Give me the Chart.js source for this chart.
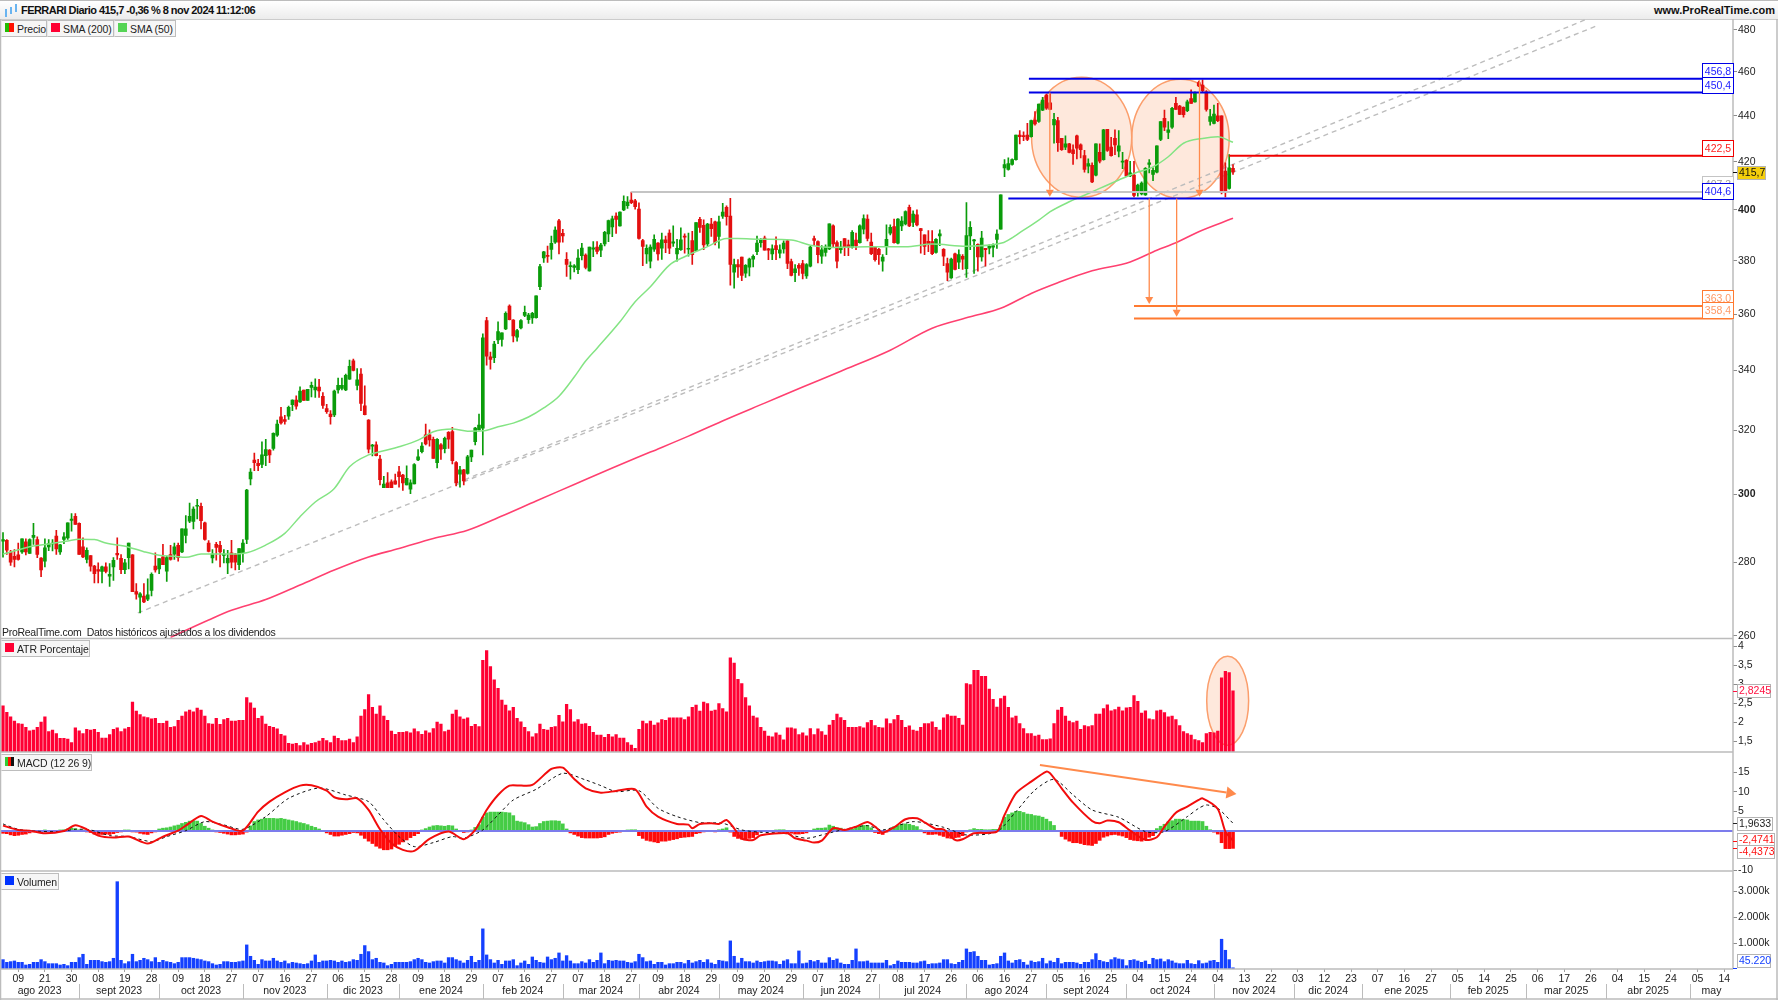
<!DOCTYPE html>
<html lang="es">
<head>
<meta charset="utf-8">
<title>FERRARI Diario</title>
<script src="https://cdn.jsdelivr.net/npm/chart.js@4/dist/chart.umd.min.js"></script>
<style>
  html, body { margin: 0; padding: 0; background: #fff; overflow: hidden; }
  body { position: relative; width: 1778px; height: 1000px; font-family: "Liberation Sans", Arial, sans-serif; color: #111; }
  canvas { position: absolute; left: 0; top: 0; }
  .head { position: absolute; left: 0; top: 1px; width: 1778px; height: 18px; background: linear-gradient(#ffffff, #ececec); font-weight: bold; font-size: 11px; line-height: 18px; }
  .head .title { position: absolute; left: 21px; letter-spacing: -.55px; }
  .head .site { position: absolute; right: 3px; }
  .head i { position: absolute; width: 2px; background: #69b4f0; }
  .tag { position: absolute; height: 17px; line-height: 16px; font-size: 10.5px; letter-spacing: -.12px; background: #f6f6f6; border: 1px solid #bdbdbd; border-left-color: #e8e8e8; box-sizing: border-box; padding-left: 15px; white-space: nowrap; color: #222; }
  .tag b { position: absolute; left: 3px; top: 2px; width: 9px; height: 9px; }
  .note { position: absolute; left: 2px; top: 626px; font-size: 10.5px; letter-spacing: -.28px; color: #222; white-space: nowrap; }
</style>
</head>
<body>
<canvas id="js-chart-ferrari" width="1778" height="1000"></canvas>
<div class="head">
  <i style="left:5px;top:8px;height:8px"></i><i style="left:10px;top:6px;height:7px"></i><i style="left:15px;top:3px;height:8px"></i>
  <span class="title">FERRARI Diario 415,7 -0,36 % 8 nov 2024 11:12:06</span>
  <span class="site">www.ProRealTime.com</span>
</div>
<div class="tag" style="left:1px;top:20px;width:46px"><b style="background:linear-gradient(90deg,#22bb00 50%,#ff1100 50%)"></b>Precio</div>
<div class="tag" style="left:47px;top:20px;width:67px"><b style="background:#ff0033"></b>SMA (200)</div>
<div class="tag" style="left:114px;top:20px;width:62px"><b style="background:#55d455"></b>SMA (50)</div>
<div class="note">ProRealTime.com&nbsp; Datos históricos ajustados a los dividendos</div>
<div class="tag" style="left:1px;top:640px;width:89px"><b style="background:#ff0033"></b>ATR Porcentaje</div>
<div class="tag" style="left:1px;top:754px;width:91px"><b style="background:linear-gradient(90deg,#33cc33 33%,#ff1100 33%,#ff1100 66%,#111 66%)"></b>MACD (12 26 9)</div>
<div class="tag" style="left:1px;top:873px;width:58px"><b style="background:#0033ff"></b>Volumen</div>

<script>
// Candles, one value per session
const opens = [
  286.1,286.4,283.0,281.8,282.2,283.0,285.9,282.6,287.2,286.6,
  281.3,280.4,284.5,285.3,287.6,283.0,286.6,287.1,292.2,293.4,
  291.3,284.5,280.9,282.0,279.0,278.0,277.5,278.8,276.2,278.8,
  282.6,281.2,278.0,281.4,282.2,271.9,270.4,270.7,269.8,272.2,
  279.0,278.2,281.6,277.6,282.3,282.4,284.9,283.0,287.8,292.0,
  291.9,296.4,296.4,291.5,285.6,281.3,285.2,284.9,282.0,279.9,
  282.8,282.3,279.4,282.8,286.6,304.7,310.6,309.6,309.2,312.0,
  313.7,314.3,318.5,324.5,323.6,324.7,328.5,330.0,329.4,333.4,
  329.9,334.3,333.4,334.4,331.3,327.2,325.4,325.1,333.4,333.9,
  333.4,337.1,343.4,334.9,338.8,328.1,323.4,315.0,315.4,310.9,
  302.0,303.5,303.8,304.1,306.9,305.9,302.9,301.6,303.2,310.6,
  313.2,318.6,318.6,317.2,309.8,315.4,314.2,319.4,319.7,309.8,
  306.2,307.5,306.4,311.6,316.4,320.3,320.8,357.6,344.8,344.5,
  350.7,350.9,354.6,362.9,357.8,351.7,355.0,359.5,358.0,358.6,
  358.7,370.1,381.0,382.0,384.3,387.2,395.6,390.6,380.5,377.7,
  377.4,376.5,381.9,382.1,376.1,384.4,385.2,384.0,386.5,390.4,
  393.2,397.5,393.6,400.0,401.7,404.0,403.7,400.3,387.8,382.6,
  379.8,384.4,386.8,384.8,388.1,390.7,386.8,382.6,384.2,389.6,
  384.4,387.8,383.8,396.2,393.8,386.5,394.3,395.2,389.4,397.5,
  401.0,397.5,375.6,378.5,381.4,375.2,377.5,380.6,383.5,387.0,
  388.8,384.6,382.6,385.8,382.9,384.5,387.7,379.6,375.4,378.2,
  378.9,374.2,377.9,388.6,387.4,381.7,383.2,384.5,393.6,387.0,
  384.2,388.6,386.1,385.2,388.0,387.0,392.3,396.3,387.2,385.2,
  384.4,379.8,385.8,390.7,393.3,386.8,393.6,394.4,401.0,395.0,
  398.0,392.5,390.0,387.5,387.4,383.2,389.6,384.4,378.9,373.4,
  382.6,379.4,381.7,376.9,389.6,387.7,386.3,381.4,384.8,384.8,
  385.2,388.2,392.3,417.4,416.7,418.8,420.9,431.5,431.1,431.5,
  430.8,438.1,437.4,442.5,449.3,445.8,435.9,437.8,430.0,426.2,
  427.6,425.1,431.1,427.2,422.6,418.1,418.4,414.3,424.0,420.9,
  434.0,426.2,430.0,424.5,419.8,420.6,414.0,414.3,407.5,406.5,
  406.1,418.8,414.6,415.6,429.6,438.8,432.6,434.9,445.5,444.3,
  443.7,442.2,447.7,446.2,455.0,453.8,450.8,437.4,436.6,439.9,
  439.9,416.0,408.8,417.2
];
const highs = [
  288.6,286.6,283.5,283.7,285.6,286.8,286.8,286.8,291.3,287.4,
  281.4,286.8,286.6,286.6,289.3,285.2,288.6,291.5,294.2,294.2,
  291.5,287.1,284.2,282.0,279.2,279.9,279.0,279.9,279.7,281.4,
  287.1,282.3,280.9,285.6,282.3,274.1,271.6,274.1,275.4,277.1,
  282.8,281.1,285.2,281.8,284.9,285.6,285.6,289.7,293.6,297.4,
  296.2,298.5,297.4,291.7,286.3,283.7,285.8,286.1,283.7,283.5,
  286.4,282.6,284.0,286.6,301.5,307.9,312.8,310.8,316.4,317.2,
  313.9,319.3,323.4,327.6,325.0,328.0,330.1,331.4,334.5,333.4,
  333.6,336.1,337.2,337.0,332.5,328.6,326.5,333.4,337.4,337.4,
  338.8,343.6,344.0,340.7,340.7,334.8,323.6,315.6,316.4,312.1,
  305.5,306.7,304.4,306.2,308.6,306.1,308.8,304.4,309.5,313.9,
  316.1,322.1,320.2,317.9,317.4,315.8,317.9,319.7,321.0,310.1,
  308.6,307.7,312.1,313.7,321.0,325.4,352.9,358.8,346.4,350.2,
  357.2,353.2,360.8,363.4,358.0,354.5,358.0,362.9,360.3,360.6,
  366.7,378.6,383.6,385.6,389.6,393.2,396.2,392.2,383.1,379.5,
  378.5,384.3,386.7,382.6,385.2,387.4,387.4,386.7,391.4,395.9,
  397.5,398.8,399.2,405.7,405.4,407.3,404.3,402.9,388.3,386.1,
  386.1,390.0,387.0,390.7,389.6,392.0,393.6,388.3,392.8,390.4,
  390.7,391.4,394.9,397.0,396.0,394.6,396.6,395.5,397.5,402.7,
  401.7,404.7,380.6,380.4,381.4,378.5,381.0,382.2,389.6,388.6,
  389.6,384.8,386.1,389.3,386.1,387.7,388.0,380.6,378.5,378.9,
  380.1,378.9,385.5,389.6,387.7,385.8,386.1,394.4,394.0,387.7,
  387.5,388.6,388.0,391.7,390.7,394.0,398.0,398.0,390.7,385.5,
  384.8,382.3,394.0,394.0,396.3,396.5,397.3,399.6,402.0,399.6,
  400.0,392.6,390.0,391.7,391.7,388.6,392.0,384.7,381.0,381.0,
  382.9,384.2,382.3,403.0,395.3,388.3,386.5,391.4,384.8,386.1,
  386.5,392.0,406.1,420.9,421.6,421.2,431.5,433.4,432.9,436.6,
  438.1,441.8,445.2,448.2,449.7,450.0,441.0,439.3,430.0,431.1,
  427.9,427.2,431.4,427.6,424.8,421.2,419.5,427.6,427.6,434.0,
  434.0,430.5,433.7,433.4,424.0,420.9,420.2,420.2,410.6,411.5,
  417.5,420.9,417.4,426.8,437.4,442.5,437.4,443.7,448.2,444.6,
  444.0,447.0,451.6,450.8,455.7,456.2,451.3,442.8,444.7,445.5,
  439.9,419.5,423.0,418.8
];
const lows = [
  281.5,282.3,279.2,278.8,280.7,282.6,282.2,282.6,285.2,281.4,
  276.0,278.8,283.4,283.3,282.3,282.3,285.4,286.6,289.0,291.0,
  282.3,281.4,279.9,277.6,274.3,274.3,274.3,277.1,273.3,275.0,
  280.9,276.9,276.9,278.2,271.9,269.8,266.1,268.9,269.4,270.7,
  277.3,276.9,279.4,274.7,280.7,280.9,280.4,282.8,285.6,291.5,
  289.7,292.6,289.7,286.4,283.0,279.9,280.7,278.8,279.9,276.9,
  278.5,277.9,278.0,280.1,285.4,302.9,307.3,307.3,308.2,308.8,
  309.8,313.7,318.1,322.1,322.1,323.6,326.5,327.0,329.2,329.9,
  329.9,331.1,330.9,330.9,327.2,325.6,322.1,324.5,332.3,333.4,
  333.2,337.0,339.9,333.4,326.5,325.1,312.8,311.9,311.9,302.9,
  302.0,302.0,302.0,303.1,302.2,301.2,302.9,300.2,303.2,310.4,
  312.8,315.4,315.0,311.1,308.1,310.8,312.8,314.3,309.4,302.6,
  302.2,302.9,306.2,310.1,315.4,320.1,312.2,341.9,340.5,342.7,
  349.4,348.5,354.4,357.9,350.0,350.3,354.6,359.1,356.6,356.6,
  358.5,369.0,379.3,379.3,380.6,386.7,382.6,387.2,374.0,372.9,
  375.7,375.0,380.3,376.8,376.0,381.5,382.6,381.5,385.7,387.4,
  389.3,390.6,393.5,399.7,400.6,402.5,400.3,388.3,378.1,378.9,
  377.2,383.6,380.2,380.5,383.1,382.7,385.5,379.8,383.9,382.9,
  381.7,378.5,383.6,391.0,384.2,385.7,389.4,386.1,384.8,396.6,
  393.9,370.7,369.6,373.6,372.4,373.6,374.2,377.6,382.3,385.2,
  384.0,380.4,380.4,380.4,381.0,382.9,376.9,374.2,372.0,374.4,
  373.0,373.2,377.6,385.8,379.1,378.9,381.7,384.2,385.2,377.2,
  382.9,381.9,381.9,384.8,384.2,386.8,390.4,387.7,382.3,379.8,
  378.5,376.0,382.3,390.0,386.8,386.5,391.7,394.0,393.3,393.3,
  393.6,382.9,382.3,383.5,382.3,382.9,385.8,378.1,372.4,373.2,
  376.4,376.9,376.6,373.6,384.2,375.1,376.0,379.8,377.9,382.6,
  381.4,384.7,392.3,413.7,416.4,418.5,420.6,427.6,429.0,429.0,
  430.5,435.8,437.0,442.2,442.8,442.8,427.9,424.4,424.8,425.1,
  423.7,418.8,421.2,421.6,415.6,415.3,411.2,414.0,419.5,420.6,
  424.4,422.3,423.0,422.0,417.0,413.7,413.7,405.3,405.6,406.1,
  405.9,415.3,412.0,415.3,429.0,433.4,429.9,434.4,442.8,440.4,
  439.3,441.8,445.5,446.1,453.1,450.8,442.0,435.8,436.3,437.3,
  406.5,405.3,408.5,414.6
];
const closes = [
  286.6,283.5,280.1,280.9,280.9,286.8,283.0,286.6,287.8,282.3,
  277.9,284.2,285.4,285.5,283.9,285.1,287.4,291.5,292.6,291.0,
  282.3,281.6,283.5,279.0,276.9,277.6,278.8,277.5,276.7,280.6,
  282.2,278.0,279.9,285.6,271.9,271.2,271.3,269.1,271.0,276.7,
  277.9,281.1,279.4,281.4,280.9,284.5,281.4,289.7,289.7,293.4,
  295.6,296.7,292.1,286.6,283.2,282.4,284.3,283.0,282.4,281.2,
  280.1,280.1,284.0,285.6,301.3,306.8,309.8,308.8,312.2,313.9,
  312.2,319.1,322.1,322.5,323.0,327.6,330.0,328.0,333.0,329.9,
  333.6,335.0,334.4,333.1,328.2,326.2,324.5,333.0,335.0,335.0,
  338.4,341.5,340.1,336.8,328.9,325.2,314.0,315.2,312.0,304.5,
  303.1,302.0,302.0,303.1,305.4,303.5,304.9,303.5,309.2,311.6,
  315.0,315.7,317.0,311.1,317.2,314.0,317.5,317.2,310.4,303.5,
  307.5,304.1,311.6,313.7,320.8,321.8,351.5,345.0,343.9,349.2,
  353.7,353.2,360.3,358.0,352.1,354.0,357.6,360.6,359.6,360.3,
  366.7,377.7,383.4,381.6,386.7,391.9,387.2,389.6,378.5,378.0,
  378.0,381.0,384.9,377.4,385.2,385.0,383.6,386.0,391.0,395.7,
  396.4,396.2,399.1,403.5,403.2,402.9,401.3,388.6,385.5,384.8,
  385.2,388.3,382.6,388.1,387.0,384.8,387.3,384.8,388.1,389.1,
  384.8,382.3,394.9,393.0,386.1,394.3,392.5,387.0,395.2,399.1,
  397.3,378.5,378.5,377.6,374.4,378.2,380.6,381.7,386.8,388.2,
  384.0,384.0,384.6,384.2,384.2,386.8,378.9,374.4,376.9,377.1,
  375.1,378.5,385.2,387.8,382.3,384.2,385.2,394.4,386.5,379.8,
  385.2,385.2,385.2,391.0,385.8,393.6,396.5,388.6,382.7,380.4,
  382.3,381.4,388.3,393.0,387.0,396.3,395.5,399.3,393.6,398.3,
  394.0,391.7,385.5,386.5,382.7,388.3,390.4,381.7,375.6,380.6,
  376.6,382.3,380.6,389.8,393.0,388.0,381.4,388.8,384.2,385.5,
  385.8,390.3,406.1,418.8,419.2,420.9,431.5,430.8,430.8,429.6,
  437.8,436.3,445.2,447.0,443.3,442.8,438.4,428.2,425.1,427.6,
  424.0,423.4,425.8,425.1,416.7,419.2,411.5,427.6,420.2,433.7,
  424.8,422.6,427.2,426.8,420.1,414.0,415.3,405.9,410.2,411.0,
  417.2,419.5,416.3,426.8,437.4,434.9,433.7,443.3,442.8,440.6,
  440.4,446.2,445.5,450.3,453.4,451.3,442.8,439.6,440.7,437.8,
  407.8,407.8,417.4,415.7
];

// Moving averages, read at the sessions listed
const sma50Idx = [0,8,12,17,20,24,27,33,37,41,45,48,52,55,60,64,69,74,78,82,87,91,96,100,104,109,113,118,122,126,130,134,138,142,146,150,153,156,162,166,170,175,179,185,190,193,199,207,212,218,227,237,244,253,262,268,272,275,280,284,288,293,297,302,306,310,315,319,323];
const sma50Vals = [282.4,284.7,285.3,286.2,286.7,286.6,285.6,284.4,283.1,282.1,281.8,281.5,282.4,282.4,282.4,282.8,285.0,288.4,293.3,297.7,301.8,308.5,312.2,313.5,314.8,316.9,319.6,320.5,319.8,319.9,321.2,322.4,324.4,327.4,331.3,337.8,343.3,347.8,357.2,364.5,370.1,378.3,381.5,385.4,388.6,388.6,388.3,388.0,386.0,385.1,385.4,385.4,386.4,385.6,386.7,391.9,395.9,399.3,403.3,406.0,408.8,412.3,415.0,417.8,422.1,427.9,430.0,430.7,428.3];
const sma200Idx = [44,54,60,69,78,87,96,104,113,122,131,140,150,160,170,180,190,200,210,220,233,244,254,262,270,277,286,296,303,308,314,323];
const sma200Vals = [259.6,264.2,266.8,269.7,273.7,277.9,281.6,284.0,286.9,289.3,293.5,298.0,303.0,308.1,313.1,318.2,323.7,329.0,334.4,339.8,347.1,354.9,359.0,362.1,367.6,371.6,376.1,379.5,384.0,386.9,391.3,396.6];

// ATR Porcentaje
const atrVals = [
  2.43,2.26,2.14,2.03,1.96,1.95,1.86,1.77,1.79,1.86,
  2.00,2.14,1.75,1.79,1.70,1.57,1.57,1.55,1.46,1.85,
  1.77,1.70,1.81,1.79,1.81,1.73,1.58,1.58,1.67,1.81,
  1.85,1.75,1.82,1.86,2.53,2.29,2.20,2.14,2.12,2.09,
  2.10,1.97,1.97,2.03,1.86,1.88,2.05,2.16,2.27,2.32,
  2.27,2.37,2.32,2.16,1.96,1.95,2.10,1.94,2.07,2.10,
  2.03,2.03,2.05,2.05,2.65,2.51,2.37,2.10,2.16,1.95,
  1.89,1.86,1.82,1.68,1.64,1.44,1.42,1.44,1.38,1.46,
  1.40,1.44,1.46,1.50,1.57,1.51,1.46,1.63,1.57,1.51,
  1.51,1.55,1.46,1.61,2.16,2.33,2.73,2.39,2.21,2.43,
  2.16,2.05,1.76,1.68,1.73,1.73,1.75,1.72,1.82,1.75,
  1.68,1.77,1.72,1.83,2.00,1.95,1.75,1.79,2.21,2.32,
  2.14,2.08,2.11,1.89,1.94,1.88,3.63,3.89,3.47,3.12,
  2.89,2.58,2.45,2.30,2.39,2.10,2.01,1.86,1.75,1.61,
  1.70,1.95,1.81,1.79,1.86,1.88,2.18,2.01,2.47,2.33,
  2.01,2.07,1.95,1.96,1.89,1.73,1.66,1.66,1.60,1.68,
  1.61,1.67,1.58,1.58,1.46,1.39,1.31,1.81,2.03,1.96,
  2.03,1.92,1.98,2.07,2.05,2.11,2.11,2.11,2.11,2.07,
  2.14,2.39,2.45,2.29,2.53,2.49,2.29,2.32,2.49,2.36,
  2.27,3.70,3.56,3.13,3.02,2.65,2.43,2.16,2.11,1.86,
  1.76,1.63,1.61,1.72,1.66,1.53,1.85,1.85,1.82,1.67,
  1.72,1.64,1.83,1.67,1.82,1.75,1.66,1.92,2.05,2.21,
  2.12,2.05,1.86,1.86,1.86,1.88,1.85,1.99,2.05,1.91,
  1.86,1.85,2.09,1.96,2.07,2.18,2.05,1.86,1.90,1.79,
  1.76,1.86,1.96,1.96,2.01,1.86,1.79,2.11,2.20,2.16,
  2.16,2.10,1.92,3.02,2.99,3.37,3.37,3.21,3.21,2.87,
  2.60,2.40,2.62,2.69,2.39,2.11,2.16,1.96,1.83,1.70,
  1.70,1.63,1.66,1.54,1.54,1.56,1.96,2.32,2.39,2.16,
  2.03,1.99,2.03,1.81,1.91,1.88,1.91,2.21,2.21,2.36,
  2.46,2.30,2.33,2.40,2.30,2.38,2.39,2.70,2.55,2.24,
  2.30,2.09,2.07,2.30,2.32,2.25,2.14,2.16,2.07,1.91,
  1.75,1.70,1.66,1.54,1.51,1.46,1.70,1.73,1.72,1.76,
  3.17,3.34,3.31,2.8245
];

// MACD (12 26 9)
const macdHist = [
  -.6,-.7,-1,-1.2,-1.1,-.9,-.8,-.5,-.3,-.2,
  -.1,.1,-.1,-.1,-.1,.1,.3,.5,.7,.6,
  .3,.1,-.2,-.4,-.8,-.9,-.9,-.8,-.9,-.7,
  -.4,-.2,.1,.2,-.1,-.3,-.6,-.8,-.9,-.5,
  -.2,.5,.7,.8,1.0,1.3,1.5,1.9,2.2,2.5,
  2.6,2.5,1.9,1.2,.7,.1,-.1,-.4,-.6,-.8,
  -1.0,-1.0,-.9,-.8,-.3,1.3,2.4,2.8,3.0,3.2,
  3.2,3.2,3.1,3.2,3.0,2.8,2.6,2.4,2.1,1.9,
  1.6,1.2,.9,.5,0,-.5,-.9,-1.3,-1.3,-1.1,
  -.9,-.7,-.4,-.5,-1.1,-1.9,-2.6,-3.2,-3.9,-4.4,
  -4.8,-4.8,-4.6,-3.9,-3.4,-2.8,-2.3,-1.7,-1.2,-.7,
  .2,.6,1.0,1.3,1.4,1.3,1.2,1.4,1.3,.5,
  0,-.4,-.1,.2,.9,1.6,3.5,4.6,4.8,4.8,
  4.8,4.8,4.7,4.6,3.9,2.5,2.3,2.1,1.6,1.0,
  1.1,1.9,2.4,2.5,2.6,2.6,2.5,1.8,.5,-.5,
  -.9,-1.3,-1.7,-1.8,-1.8,-1.8,-1.8,-1.7,-1.5,-.9,
  -.6,-.4,-.3,0,.2,.3,.3,-1.2,-1.9,-2.4,
  -2.6,-2.8,-3.0,-2.6,-2.6,-2.4,-2.2,-2.0,-1.7,-1.6,
  -1.5,-1.4,-.7,-.5,-.2,0,0,-.2,.3,.5,
  .8,-.3,-1.4,-1.9,-2.1,-2.2,-1.9,-1.7,-1.0,-.2,
  0,0,0,.2,.3,.3,-.5,-.6,-.8,-.8,
  -.7,-.5,0,.5,.7,.7,.8,1.5,1.2,.8,
  .7,.4,.2,.4,1.0,1.3,1.4,1.4,.8,-.4,
  -.7,-.9,-.3,.5,1.1,1.4,1.7,1.8,1.7,1.4,
  1.1,.3,-.5,-.9,-.9,-.8,-1.1,-1.4,-1.8,-1.9,
  -1.7,-1.6,-1.2,-.2,.3,.6,.4,.4,.3,.3,
  .4,.4,1.5,3.5,4.2,4.6,5.0,5.0,4.7,4.3,
  4.2,3.9,3.8,3.5,3.0,2.4,1.4,0,-1.4,-2.1,
  -2.6,-3.0,-3.0,-3.2,-3.5,-3.6,-3.7,-3.2,-2.4,-1.6,
  -1.3,-1.0,-.9,-1.1,-1.3,-1.7,-2.2,-2.4,-2.5,-2.6,
  -2.2,-1.6,-1.2,.6,1.2,1.7,2.3,2.6,3.0,3.0,
  2.9,2.8,2.5,2.5,2.5,2.4,1.2,.3,-.3,-.8,
  -3.0,-4.5,-4.5,-4.4373
];
const macdIdx = [0,4,7,11,16,19,22,25,29,33,38,42,46,48,52,55,59,63,67,70,74,78,81,85,87,90,93,96,99,102,105,108,112,117,121,124,127,130,133,136,139,144,147,150,153,157,161,166,169,172,177,180,181,183,186,188,190,192,194,197,199,206,208,211,213,215,218,221,224,227,229,231,234,237,240,242,245,247,250,252,255,261,263,266,270,274,275,278,281,286,288,290,293,296,300,303,305,308,311,314,315,319,321,323];
const macdVals = [1.36,.25,.08,-.59,0,1.44,.42,-1.19,-1.70,-1.44,-3.22,-1.44,.08,1.36,3.82,2.37,.93,.08,4.92,7.46,9.84,11.54,11.62,10.26,8.57,8.06,8.31,5.34,.42,-3.14,-4.83,-5.09,-2.04,-.17,-2.12,.25,5.34,9.16,11.54,11.54,11.70,15.78,16.12,13.23,10.86,9.75,10.18,10.60,6.19,3.65,1.78,1.61,.68,1.78,1.95,1.78,2.80,.68,-1.95,-2.29,-1.10,-.59,-1.87,-2.46,-2.97,-2.46,.68,.25,1.10,2.29,1.10,-.42,.93,2.97,3.22,2.21,.51,.42,-2.29,-2.12,-.59,-.17,4.07,9.58,12.55,15.10,14.67,10.86,7.21,2.54,1.95,2.63,2.21,.08,-2.29,-1.61,1.10,4.66,6.19,7.89,8.31,5.60,-.17,-2.47];
const signalIdx = [0,4,9,15,19,23,28,33,39,43,48,53,58,63,69,75,83,90,96,100,104,108,113,118,121,126,130,134,140,147,153,157,161,167,172,177,183,189,194,199,205,211,216,221,227,231,239,247,253,261,266,271,276,281,286,293,300,305,311,314,316,319,323];
const signalVals = [1.78,.42,-.08,-.17,.42,.25,-1.19,-1.44,-2.71,-1.44,.08,2.37,1.53,.42,3.65,8.31,10.94,9.16,7.46,2.80,-1.44,-3.99,-2.97,-1.44,-1.87,.25,4.07,7.89,10.60,14.67,12.98,11.54,10.01,10.26,5.77,3.65,2.12,1.95,.25,-.34,-.59,-1.87,-.76,.42,1.36,.25,2.37,.93,-1.02,-.17,4.92,10.43,13.15,9.16,5.34,3.48,-.17,-.17,3.65,5.77,6.62,5.77,1.96];

// Volumen, in thousands
const volumeVals = [
  361,258,284,310,258,258,155,181,258,258,
  361,284,206,206,206,155,181,129,258,258,
  439,568,181,335,335,335,284,258,284,413,
  3367,335,206,284,568,284,335,413,361,284,
  439,258,335,284,258,206,258,439,439,439,
  413,387,361,310,284,206,155,181,284,284,
  258,258,284,310,929,490,335,181,361,310,
  310,413,310,258,310,206,258,232,206,181,
  206,310,542,258,310,310,335,310,258,310,
  258,284,361,335,568,903,671,361,413,258,
  232,129,181,258,258,258,258,284,361,413,
  361,258,232,284,310,310,232,439,439,361,
  310,232,335,490,258,335,1548,542,361,232,
  335,181,310,310,361,129,232,310,181,464,
  335,258,232,464,361,413,619,310,516,310,
  206,206,284,232,361,258,335,619,206,335,
  310,335,310,310,258,232,284,568,439,284,
  310,181,258,258,155,206,206,258,258,206,
  335,232,284,335,258,361,232,181,335,310,
  284,1084,490,232,413,284,284,232,310,258,
  284,310,310,284,181,310,361,206,206,697,
  206,232,335,284,335,232,232,439,335,387,
  232,181,181,335,774,284,284,310,232,232,
  232,232,335,129,181,310,258,258,258,232,
  232,284,310,181,206,206,232,361,361,206,
  181,258,335,774,645,671,490,335,335,155,
  181,206,490,619,310,232,335,361,258,155,
  310,258,284,413,206,310,258,413,206,258,
  258,258,232,181,258,258,361,593,335,284,
  258,361,439,387,361,129,335,361,310,258,
  310,181,413,361,387,284,361,310,232,206,
  206,335,206,181,322,206,232,310,335,258,
  1148,722,361,45.22
];

// Axis labels
const priceTicks = [260,280,300,320,340,360,380,400,420,440,460,480];
const atrTicks = [1.5,2,2.5,3,3.5,4];
const macdTicks = [-10,5,10,15];
const volumeTicks = [1000,2000,3000];
const dayLabels = ['09','21','30','08','19','28','09','18','27','07','16','27','06','15','28','09','18','29','07','16','27','07','18','27','09','18','29','09','20','29','07','18','27','08','17','26','06','16','27','05','16','25','04','15','24','04','13','22','03','12','23','07','16','27','05','14','25','06','17','26','04','15','24','05','14'];
const monthLabels = ['ago 2023','sept 2023','oct 2023','nov 2023','dic 2023','ene 2024','feb 2024','mar 2024','abr 2024','may 2024','jun 2024','jul 2024','ago 2024','sept 2024','oct 2024','nov 2024','dic 2024','ene 2025','feb 2025','mar 2025','abr 2025','may'];
const monthStarts = [20,41,63,85,104,126,147,167,188,210,230,253,274,295,318,339,357,380,400,421,443];

// Drawn levels and marks on the price panel
const levelPrices = [456.8,450.4,422.5,407.3,404.6,363.0,358.4];
const levelLabels = ['456,8','450,4','422,5','407,3','404,6','363,0','358,4'];
const levelStarts = [269.4,269.4,322,165,264,297,297];
const levelColors = ['#0000e6','#0000e6','#f00000','#c4c4c4','#0000e6','#ff7a30','#ff7a30'];
const levelTexts = ['#2020ff','#2020ff','#ff2020','#9a9a9a','#2020ff','#ff9a66','#ff9a66'];
const trendLower = [[35.4,266.1],[418.3,481.7]];
const trendUpper = [[119,303.4],[416,485.2]];
const priceEllipses = [[270.1,296.4,457.4,405.1],[296.4,322,456.5,404.7]];
const atrEllipse = [316.1,327.1,3.74,1.39];
const priceArrows = [[274.9,450.4,274.9,405.4],[314.2,456.1,314.2,405.4],[301,404.6,301,363.7],[308.2,404.6,308.2,359.0]];
const macdArrow = [272.3,16.8,323.9,9.41];

const ORANGE = '#ff8a4c';
const FONT = '"Liberation Sans", Arial, sans-serif';
const X_MIN = -0.79;
const X_MAX = 454.3;

const byIndex = vals => vals.map((v, i) => ({x: i, y: v}));
const pairs = (idx, vals) => idx.map((x, k) => ({x: x, y: vals[k]}));
const upOrDown = (k, up, down) => closes[k] >= opens[k] ? up : down;

function barSet(label, yAxisID, data, color, thick, order) {
  return {type: 'bar', label, yAxisID, data, backgroundColor: color, grouped: false, maxBarThickness: thick, barPercentage: 1, categoryPercentage: 1, minBarLength: 1, order};
}

function lineSet(label, yAxisID, data, color, width, order, extra) {
  return Object.assign({type: 'line', label, yAxisID, data, borderColor: color, borderWidth: width, pointRadius: 0, fill: false, order}, extra || {});
}

const candleColors = opens.map((o, k) => upOrDown(k, '#0a9c0a', '#e30f0f'));
const histColors = macdHist.map(v => v >= 0 ? '#45cc45' : '#ff0a0a');

const datasets = [
  barSet('Mechas', 'yPrice', lows.map((l, i) => ({x: i, y: [l, highs[i]]})), candleColors, 1, 6),
  barSet('Precio', 'yPrice', opens.map((o, i) => ({x: i, y: [o, closes[i]]})), candleColors, 3, 5),
  lineSet('SMA (200)', 'yPrice', pairs(sma200Idx, sma200Vals), '#ff4070', 1.6, 4, {cubicInterpolationMode: 'monotone'}),
  lineSet('SMA (50)', 'yPrice', pairs(sma50Idx, sma50Vals), '#84e484', 1.5, 4, {cubicInterpolationMode: 'monotone'}),
  lineSet('Tendencia', 'yPrice', trendLower.map(p => ({x: p[0], y: p[1]})), '#bdbdbd', 1.4, 7, {borderDash: [5, 4]}),
  lineSet('Tendencia 2', 'yPrice', trendUpper.map(p => ({x: p[0], y: p[1]})), '#bdbdbd', 1.4, 7, {borderDash: [5, 4]}),
  barSet('ATR Porcentaje', 'yAtr', byIndex(atrVals), '#ff0033', 2.6, 5),
  barSet('Histograma', 'yMacd', byIndex(macdHist), histColors, 3, 5),
  lineSet('Cero', 'yMacd', [{x: X_MIN, y: 0}, {x: X_MAX, y: 0}], '#7c7cec', 2, 3),
  lineSet('Señal', 'yMacd', pairs(signalIdx, signalVals), '#111111', 1, 2, {borderDash: [3, 3], tension: .25}),
  lineSet('MACD', 'yMacd', pairs(macdIdx, macdVals), '#f20c0c', 2, 1, {tension: .25}),
  barSet('Volumen', 'yVol', byIndex(volumeVals), '#1440ff', 2.7, 5)
];

levelPrices.forEach((p, k) => {
  datasets.push(lineSet('Nivel ' + levelLabels[k], 'yPrice', [{x: levelStarts[k], y: p}, {x: X_MAX, y: p}], levelColors[k], 2, 3));
});

function drawEllipse(ctx, x0, x1, y0, y1) {
  ctx.beginPath();
  ctx.ellipse((x0 + x1) / 2, (y0 + y1) / 2, Math.abs(x1 - x0) / 2, Math.abs(y1 - y0) / 2, 0, 0, Math.PI * 2);
  ctx.fillStyle = 'rgba(250,170,125,.27)';
  ctx.fill();
  ctx.lineWidth = 1.5;
  ctx.strokeStyle = '#fb9e6c';
  ctx.stroke();
}

function drawArrow(ctx, x0, y0, x1, y1, len, half, width) {
  const a = Math.atan2(y1 - y0, x1 - x0);
  const bx = x1 - Math.cos(a) * len;
  const by = y1 - Math.sin(a) * len;
  ctx.strokeStyle = ORANGE;
  ctx.fillStyle = ORANGE;
  ctx.lineWidth = width;
  ctx.beginPath();
  ctx.moveTo(x0, y0);
  ctx.lineTo(bx, by);
  ctx.stroke();
  ctx.beginPath();
  ctx.moveTo(x1, y1);
  ctx.lineTo(bx - Math.sin(a) * half, by + Math.cos(a) * half);
  ctx.lineTo(bx + Math.sin(a) * half, by - Math.cos(a) * half);
  ctx.closePath();
  ctx.fill();
}

// The tick stays on the value, the box can be nudged away from its neighbour
function drawBadge(ctx, right, text, y, color, fill, nudge) {
  const w = right - 1737;
  const yBox = Math.round(y) + nudge;
  ctx.strokeStyle = color;
  ctx.lineWidth = 1;
  ctx.beginPath();
  ctx.moveTo(1733, Math.round(y) + .5);
  ctx.lineTo(1737, Math.round(y) + .5);
  ctx.stroke();
  ctx.fillStyle = fill;
  ctx.strokeStyle = '#b4b4b4';
  ctx.fillRect(1737, yBox - 7, w, 14);
  ctx.strokeRect(1737.5, yBox - 6.5, w - 1, 13);
  ctx.fillStyle = color;
  ctx.font = '10.5px ' + FONT;
  ctx.textAlign = 'left';
  ctx.textBaseline = 'middle';
  ctx.fillText(text, 1739, yBox + .5);
}

const ferrariMarks = {
  id: 'ferrariMarks',
  beforeDatasetsDraw(chart) {
    const {ctx, scales} = chart;
    ctx.save();
    priceEllipses.forEach(e => {
      drawEllipse(ctx, scales.x.getPixelForValue(e[0]), scales.x.getPixelForValue(e[1]), scales.yPrice.getPixelForValue(e[2]), scales.yPrice.getPixelForValue(e[3]));
    });
    drawEllipse(ctx, scales.x.getPixelForValue(atrEllipse[0]), scales.x.getPixelForValue(atrEllipse[1]), scales.yAtr.getPixelForValue(atrEllipse[2]), scales.yAtr.getPixelForValue(atrEllipse[3]));
    ctx.restore();
  },
  afterDraw(chart) {
    const {ctx, scales, chartArea} = chart;
    const x = scales.x;
    ctx.save();

    priceArrows.forEach(a => {
      drawArrow(ctx, x.getPixelForValue(a[0]), scales.yPrice.getPixelForValue(a[1]), x.getPixelForValue(a[2]), scales.yPrice.getPixelForValue(a[3]), 7, 4, 1.3);
    });
    drawArrow(ctx, x.getPixelForValue(macdArrow[0]), scales.yMacd.getPixelForValue(macdArrow[1]), x.getPixelForValue(macdArrow[2]), scales.yMacd.getPixelForValue(macdArrow[3]), 10, 6, 2);

    // Panel frame
    ctx.strokeStyle = '#bcbcbc';
    ctx.lineWidth = 1.5;
    ctx.beginPath();
    [0.5, chartArea.top, scales.yPrice.bottom, scales.yAtr.bottom, scales.yMacd.bottom, chartArea.bottom, 999].forEach((y, k) => {
      ctx.moveTo(0, y);
      ctx.lineTo(k === 0 || k === 1 || k === 6 ? 1778 : chartArea.right, y);
    });
    [0.5, chartArea.right, 1777].forEach(px => {
      ctx.moveTo(px, 0);
      ctx.lineTo(px, px === chartArea.right ? chartArea.bottom : 1000);
    });
    ctx.stroke();

    // Month row
    ctx.fillStyle = '#222';
    ctx.font = '10.5px ' + FONT;
    ctx.textAlign = 'center';
    ctx.textBaseline = 'middle';
    monthLabels.forEach((label, k) => {
      const from = k === 0 ? 0 : x.getPixelForValue(monthStarts[k - 1]);
      const to = k < monthStarts.length ? x.getPixelForValue(monthStarts[k]) : chartArea.right;
      ctx.fillText(label, (from + to) / 2, 991);
    });
    ctx.strokeStyle = '#bcbcbc';
    ctx.lineWidth = 1;
    ctx.beginPath();
    monthStarts.forEach(s => {
      const px = Math.round(x.getPixelForValue(s)) + .5;
      ctx.moveTo(px, 984);
      ctx.lineTo(px, 999);
    });
    ctx.stroke();

    // Level boxes, their lower edge sits on the level
    levelPrices.forEach((p, k) => {
      const y = Math.round(scales.yPrice.getPixelForValue(p));
      ctx.fillStyle = '#fff';
      ctx.fillRect(1702, y - 16, 31, 16);
      ctx.strokeStyle = levelColors[k];
      ctx.lineWidth = 1;
      ctx.strokeRect(1702.5, y - 15.5, 31, 16);
      ctx.fillStyle = levelTexts[k];
      ctx.font = '10.5px ' + FONT;
      ctx.textAlign = 'center';
      ctx.textBaseline = 'middle';
      ctx.fillText(levelLabels[k], 1718, y - 7);
    });

    drawBadge(ctx, 1766, '415,7', scales.yPrice.getPixelForValue(closes[closes.length - 1]), '#111', '#f5cf0c', 1);
    drawBadge(ctx, 1771, '2,8245', scales.yAtr.getPixelForValue(atrVals[atrVals.length - 1]), '#ff1040', '#fff', 0);
    drawBadge(ctx, 1773, '1,9633', scales.yMacd.getPixelForValue(signalVals[signalVals.length - 1]), '#222', '#fff', 1);
    drawBadge(ctx, 1775, '-2,4741', scales.yMacd.getPixelForValue(macdVals[macdVals.length - 1]), '#ff1010', '#fff', -1);
    drawBadge(ctx, 1775, '-4,4373', scales.yMacd.getPixelForValue(macdHist[macdHist.length - 1]), '#ff1010', '#fff', 4);
    drawBadge(ctx, 1771, '45.220', scales.yVol.getPixelForValue(volumeVals[volumeVals.length - 1]), '#1440ff', '#fff', -7);
    ctx.restore();
  }
};

function paneAxis(type, weight, stackWeight, min, max, tickValues, format) {
  return {
    type: type,
    position: 'right',
    stack: 'panes',
    stackWeight: stackWeight,
    weight: weight,
    min: min,
    max: max,
    border: {display: false},
    grid: {display: true, drawOnChartArea: false, drawTicks: true, tickLength: 4, color: '#8c8c8c'},
    afterBuildTicks: s => { s.ticks = tickValues.map(v => ({value: v})); },
    afterFit: s => { s.width = 45; s.paddingTop = 0; s.paddingBottom = 0; },
    ticks: {
      autoSkip: false,
      padding: 1,
      color: '#222',
      font: c => ({family: FONT, size: 10.5, weight: c.tick && c.tick.value % 100 === 0 && type === 'logarithmic' ? 'bold' : 'normal'}),
      callback: format
    }
  };
}

new Chart(document.getElementById('js-chart-ferrari'), {
  type: 'bar',
  data: {datasets: datasets},
  plugins: [ferrariMarks],
  options: {
    responsive: false,
    animation: false,
    events: [],
    layout: {padding: {top: 19, left: 0, right: 0, bottom: 0}},
    plugins: {legend: {display: false}, tooltip: {enabled: false}},
    scales: {
      x: {
        type: 'linear',
        min: X_MIN,
        max: X_MAX,
        offset: false,
        border: {display: false},
        grid: {display: true, drawOnChartArea: false, offset: false, drawTicks: true, tickLength: 3, color: '#a0a0a0'},
        afterBuildTicks: s => { s.ticks = dayLabels.map((d, k) => ({value: 4 + 7 * k})); },
        afterFit: s => { s.height = 31; s.paddingLeft = 0; s.paddingRight = 0; },
        ticks: {
          autoSkip: false,
          maxRotation: 0,
          minRotation: 0,
          padding: 1,
          color: '#222',
          font: {family: FONT, size: 10.5},
          callback: (v, k) => dayLabels[k]
        }
      },
      yPrice: paneAxis('logarithmic', 1, 619.5, 259.3, 485.2, priceTicks, v => String(v)),
      yAtr: paneAxis('linear', 2, 113.5, 1.21, 4.21, atrTicks, v => String(v).replace('.', ',')),
      yMacd: paneAxis('linear', 3, 119, -10.2, 20.1, macdTicks, v => String(v)),
      yVol: paneAxis('linear', 4, 98, 0, 3779, volumeTicks, v => (v / 1000) + '.000k')
    }
  }
});
</script>
</body>
</html>
